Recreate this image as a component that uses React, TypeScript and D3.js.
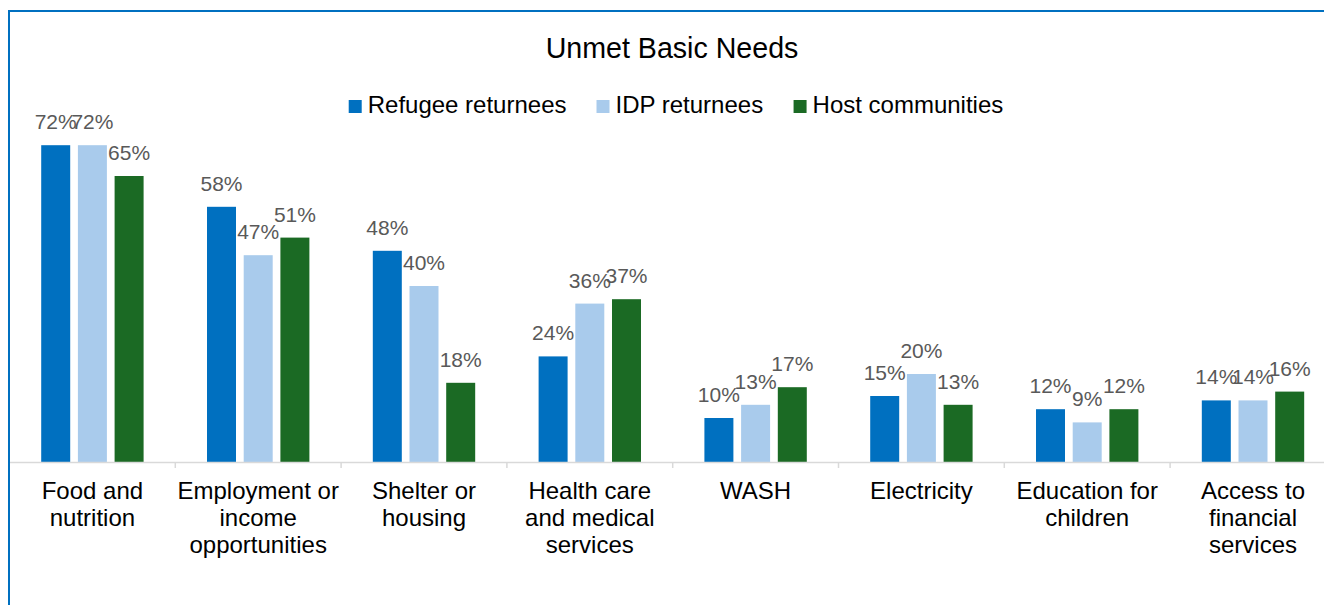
import React from "react";
import * as d3 from "d3";

const categories: string[][] = [
  ["Food and", "nutrition"],
  ["Employment or", "income", "opportunities"],
  ["Shelter or", "housing"],
  ["Health care", "and medical", "services"],
  ["WASH"],
  ["Electricity"],
  ["Education for", "children"],
  ["Access to", "financial", "services"],
];
const seriesNames = ["Refugee returnees", "IDP returnees", "Host communities"];
const refugee = [0.72, 0.58, 0.48, 0.24, 0.1, 0.15, 0.12, 0.14];
const idp = [0.72, 0.47, 0.4, 0.36, 0.13, 0.2, 0.09, 0.14];
const host = [0.65, 0.51, 0.18, 0.37, 0.17, 0.13, 0.12, 0.16];
const colors = ["#0070C0", "#A9CBEC", "#1B6A24"];
const title = "Unmet Basic Needs";

const FONT = "'Liberation Sans', Arial, Helvetica, sans-serif";

function measure(text: string, size: number): number {
  if (typeof document === "undefined") return text.length * size * 0.5;
  const c = document.createElement("canvas");
  const ctx = c.getContext("2d");
  if (!ctx) return text.length * size * 0.5;
  ctx.font = `${size}px ${FONT}`;
  return ctx.measureText(text).width;
}

export default function App() {
  const W = 1324;
  const H = 605;
  const left = 9.5;
  const bandW = 165.8;
  const baseY = 462;
  const catKeys = categories.map((c) => c.join(" "));
  const x = d3
    .scaleBand<string>()
    .domain(catKeys)
    .range([left, left + bandW * catKeys.length])
    .paddingInner(0)
    .paddingOuter(0);
  const xs = d3
    .scaleBand<string>()
    .domain(seriesNames)
    .range([0, x.bandwidth()])
    .paddingInner(0.21)
    .paddingOuter(0.864);
  const y = d3.scaleLinear().domain([0, 0.8]).range([baseY, baseY - 352]);
  const seriesVals = [refugee, idp, host];
  const fmt = d3.format(".0%");

  // legend layout
  const legSize = 24;
  const sq = 13;
  const gapText = 6;
  const itemGap = 30;
  const widths = seriesNames.map((n) => measure(n, legSize));
  const total =
    widths.reduce((a, b) => a + b, 0) + seriesNames.length * (sq + gapText) + itemGap * (seriesNames.length - 1);
  let lx = 676 - total / 2;
  const legendItems = seriesNames.map((n, i) => {
    const item = { name: n, x: lx, color: colors[i] };
    lx += sq + gapText + widths[i] + itemGap;
    return item;
  });

  const tickXs = catKeys.slice(1).map((k) => x(k) as number);

  return (
    <svg
      width={W}
      height={H}
      style={{ position: "absolute", left: 0, top: 0, background: "#fff" }}
      fontFamily={FONT}
    >
      <rect x={0} y={0} width={W} height={H} fill="#fff" />
      {/* border */}
      <rect x={9} y={11} width={W + 20} height={H + 20} fill="none" stroke="#0070C0" strokeWidth={2} />
      <text x={672} y={58} textAnchor="middle" fontSize={28.6} fill="#000">
        {title}
      </text>
      {legendItems.map((it) => (
        <g key={it.name}>
          <rect x={it.x} y={100} width={sq} height={sq} fill={it.color} />
          <text x={it.x + sq + gapText} y={113} fontSize={legSize} fill="#000">
            {it.name}
          </text>
        </g>
      ))}
      {/* bars */}
      {catKeys.map((k, ci) => (
        <g key={k} transform={`translate(${x(k)},0)`}>
          {seriesNames.map((s, si) => {
            const v = seriesVals[si][ci];
            const bx = xs(s) as number;
            return (
              <g key={s}>
                <rect x={bx} y={y(v)} width={xs.bandwidth()} height={baseY - y(v)} fill={colors[si]} />
                <text
                  x={bx + xs.bandwidth() / 2}
                  y={y(v) - 16}
                  textAnchor="middle"
                  fontSize={21}
                  fill="#595959"
                >
                  {fmt(v)}
                </text>
              </g>
            );
          })}
          {categories[ci].map((line, li) => (
            <text
              key={li}
              x={x.bandwidth() / 2}
              y={499 + li * 27}
              textAnchor="middle"
              fontSize={24}
              fill="#000"
            >
              {line}
            </text>
          ))}
        </g>
      ))}
      {/* axis */}
      <line x1={10} x2={W} y1={baseY + 0.5} y2={baseY + 0.5} stroke="#D9D9D9" strokeWidth={1.5} />
      {tickXs.map((tx, i) => (
        <line key={i} x1={tx} x2={tx} y1={baseY} y2={baseY + 6} stroke="#D9D9D9" strokeWidth={1.5} />
      ))}
    </svg>
  );
}
